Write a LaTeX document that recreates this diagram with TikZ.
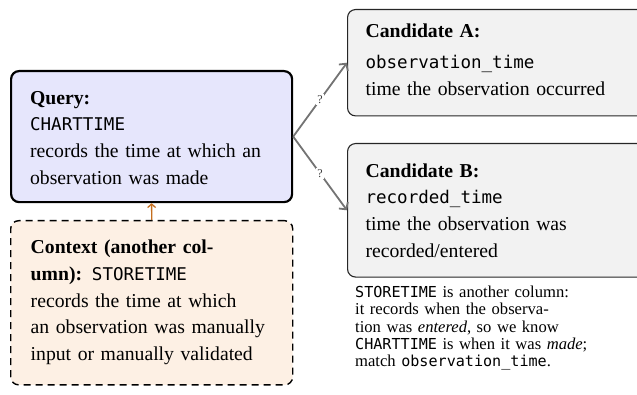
\documentclass[tikz,border=0pt]{standalone}
\usepackage{fontspec}
\setmainfont{Liberation Serif}
\newfontfamily\mono{DejaVu Sans Mono}[Scale=0.89]
\newfontfamily\notemono{DejaVu Sans Mono}[Scale=0.91]
\usetikzlibrary{arrows.meta}
\definecolor{qfill}{RGB}{230,230,252}
\definecolor{cfill}{RGB}{253,240,228}
\definecolor{candfill}{RGB}{242,242,242}
\definecolor{arrgray}{RGB}{115,115,115}
\definecolor{ctxorange}{RGB}{196,110,30}
\newcommand\topst[1]{\rule{0pt}{#1pt}}
\newcommand\botst[1]{\rule[-#1pt]{0pt}{#1pt}}
\newcommand\us{\char95\relax}
\tikzset{
  box/.style={rounded corners=8pt, align=left, inner ysep=0pt, anchor=north west,
    font=\fontsize{19.7}{26.67}\selectfont},
  qbox/.style={box, draw=black, line width=2.2pt, fill=qfill},
  ctxbox/.style={box, draw=black, line width=1.4pt, dash pattern=on 7pt off 5pt, fill=cfill},
  candbox/.style={box, draw=black!85, line width=1.1pt, fill=candfill},
  notebox/.style={align=left, inner sep=0pt, anchor=north west,
    font=\fontsize{16.6}{17.1}\selectfont},
  garrow/.style={draw=arrgray, line width=1.8pt, -{Straight Barb[length=5pt,width=11pt]}},
  oarrow/.style={draw=ctxorange, line width=1.3pt, -{Straight Barb[length=3.5pt,width=8pt]}},
  qlabel/.style={fill=white, inner sep=1.2pt, font=\fontsize{12}{12}\selectfont, text=black!75}
}
\begin{document}
\begin{tikzpicture}[x=1pt,y=-1pt]
\useasboundingbox (0,0) rectangle (637,395);
\clip (0,0) rectangle (637,395);
\node[qbox, text width=243pt, inner xsep=19pt] (query) at (10,70)
  {\topst{33}\textbf{Query:}\\ {\mono CHARTTIME}\\ records the time at which an\\ observation was made\botst{18}};
\node[ctxbox, text width=242pt, inner xsep=20pt] (context) at (10,220)
  {\topst{33}\textbf{Context (another col-}\\ \textbf{umn):} {\mono STORETIME}\\ records the time at which\\ an observation was manually\\ input or manually validated\botst{24.5}};
\node[candbox, text width=277pt, inner xsep=18pt] (candA) at (347,9)
  {\topst{27.7}\textbf{Candidate A:}\\[5pt] {\mono observation\us time}\\ time the observation occurred\botst{20.3}};
\node[candbox, text width=277pt, inner xsep=18pt] (candB) at (347,143)
  {\topst{33.7}\textbf{Candidate B:}\\ {\mono recorded\us time}\\ time the observation was\\ recorded/entered\botst{19.8}};
\node[notebox, text width=240pt] (note) at (355,283.7)
  {\topst{14}{\notemono STORETIME} is another column:\\ it records when the observa-\\ tion was \textit{entered}, so we know\\ {\notemono CHARTTIME} is when it was \textit{made};\\ match {\notemono observation\us time}.};
\draw[garrow] (query.east) -- node[qlabel]{?} (candA.west);
\draw[garrow] (query.east) -- node[qlabel]{?} (candB.west);
\draw[oarrow] (context.north) -- (query.south);
\end{tikzpicture}
\end{document}
